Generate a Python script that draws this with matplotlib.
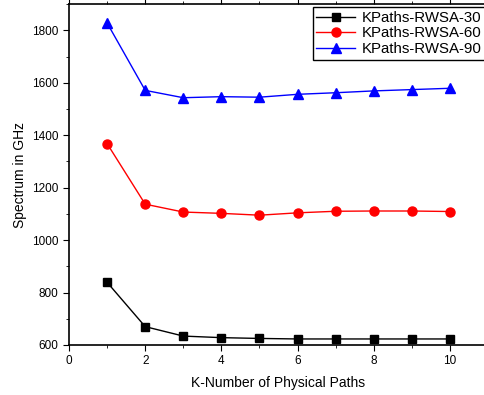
import matplotlib
matplotlib.use("Agg")
import matplotlib.pyplot as plt
from matplotlib.ticker import MultipleLocator

plt.rcParams['font.family'] = ['Liberation Sans', 'DejaVu Sans']

k_paths = [1, 2, 3, 4, 5, 6, 7, 8, 9, 10]
rwsa_30 = [839, 670, 634, 628, 625, 623, 623, 623, 623, 623]
rwsa_60 = [1368, 1137, 1107, 1102, 1095, 1104, 1110, 1111, 1111, 1109]
rwsa_90 = [1828, 1571, 1543, 1547, 1545, 1556, 1562, 1569, 1574, 1579]

fig = plt.figure(figsize=(4.85, 3.95), dpi=100)
ax = fig.add_axes([0.1423, 0.1266, 0.864, 0.863])

ax.plot(k_paths, rwsa_30, color="black", marker="s", markersize=6, lw=1, label="KPaths-RWSA-30")
ax.plot(k_paths, rwsa_60, color="red", marker="o", markersize=6.5, lw=1, label="KPaths-RWSA-60")
ax.plot(k_paths, rwsa_90, color="blue", marker="^", markersize=7, lw=1, label="KPaths-RWSA-90")

ax.set_xlim(0, 11)
ax.set_ylim(600, 1900)
ax.xaxis.set_major_locator(MultipleLocator(2))
ax.xaxis.set_minor_locator(MultipleLocator(1))
ax.yaxis.set_major_locator(MultipleLocator(200))
ax.yaxis.set_minor_locator(MultipleLocator(100))
ax.tick_params(which="both", direction="out", top=True, labelsize=8.5)
ax.tick_params(which="major", length=4)
ax.tick_params(which="minor", length=2.5)
for s in ax.spines.values():
    s.set_linewidth(1.2)

ax.set_xlabel("K-Number of Physical Paths", fontsize=10, labelpad=6)
ax.set_ylabel("Spectrum in GHz", fontsize=10)

leg = ax.legend(loc="upper right", fontsize=10.8, fancybox=False, framealpha=1,
                edgecolor="black", borderaxespad=0.2, handlelength=2.6,
                labelspacing=0.1, borderpad=0.25, handletextpad=0.4)
leg.get_frame().set_linewidth(1)

fig.savefig("out.png", dpi=100)
